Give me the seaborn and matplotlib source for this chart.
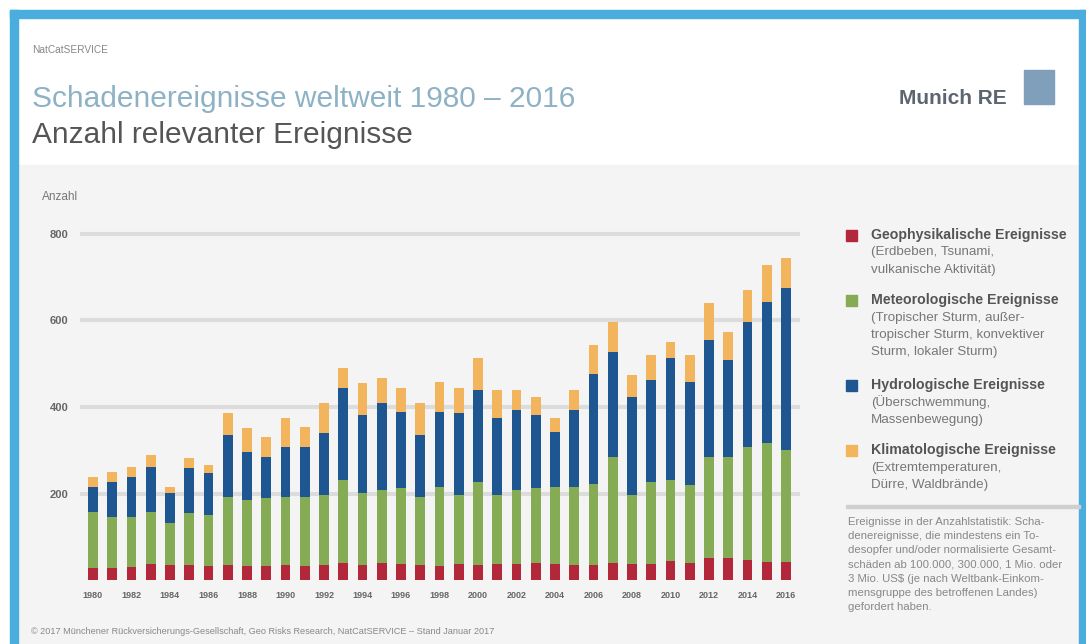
import matplotlib
matplotlib.use("Agg")
import matplotlib.pyplot as plt
import seaborn as sns
import pandas as pd
from matplotlib.patches import Rectangle

# ---------------- data ----------------
years = list(range(1980, 2017))
geophysical = [28, 28, 30, 37, 35, 35, 33, 35, 33, 32, 35, 33, 35, 39, 35, 40, 36, 35, 32,
               38, 35, 38, 36, 40, 38, 35, 35, 40, 37, 38, 45, 40, 50, 52, 46, 42, 42]
meteorological = [129, 118, 116, 120, 97, 120, 117, 157, 152, 158, 157, 159, 162, 192, 166,
                  168, 177, 157, 183, 159, 192, 159, 172, 173, 177, 180, 187, 244, 160, 189,
                  186, 180, 234, 232, 261, 275, 259]
hydrological = [58, 81, 92, 104, 69, 104, 97, 143, 111, 94, 116, 116, 143, 213, 180, 201,
                175, 143, 173, 189, 212, 178, 185, 168, 127, 178, 254, 243, 226, 235, 282,
                238, 271, 225, 290, 326, 374]
climatological = [23, 23, 23, 28, 14, 23, 19, 51, 55, 47, 67, 46, 69, 46, 74, 58, 56, 74,
                  70, 58, 74, 64, 46, 42, 33, 46, 67, 69, 51, 58, 37, 62, 85, 64, 73, 85, 69]
y_ticks = [200, 400, 600, 800]
x_tick_years = years[::2]

legend_entries = [
    ("Geophysikalische Ereignisse", ["(Erdbeben, Tsunami,", "vulkanische Aktivität)"]),
    ("Meteorologische Ereignisse", ["(Tropischer Sturm, außer-", "tropischer Sturm, konvektiver",
                                    "Sturm, lokaler Sturm)"]),
    ("Hydrologische Ereignisse", ["(Überschwemmung,", "Massenbewegung)"]),
    ("Klimatologische Ereignisse", ["(Extremtemperaturen,", "Dürre, Waldbrände)"]),
]
note_lines = [
    "Ereignisse in der Anzahlstatistik: Scha-",
    "denereignisse, die mindestens ein To-",
    "desopfer und/oder normalisierte Gesamt-",
    "schäden ab 100.000, 300.000, 1 Mio. oder",
    "3 Mio. US$ (je nach Weltbank-Einkom-",
    "mensgruppe des betroffenen Landes)",
    "gefordert haben.",
]

df = pd.DataFrame({"Jahr": [str(y) for y in years]})
df["geo"] = geophysical
df["met"] = df["geo"] + meteorological
df["hyd"] = df["met"] + hydrological
df["all"] = df["hyd"] + climatological

C_GEO = "#b3273b"
C_MET = "#86ab55"
C_HYD = "#1e5692"
C_CLI = "#f2b45c"

# ---------------- style ----------------
sns.set_style("white")
plt.rcParams["font.family"] = ["Liberation Sans", "DejaVu Sans"]

W, H = 1086, 644
fig = plt.figure(figsize=(W / 100, H / 100), dpi=100)


def fx(px):
    return px / W


def fy(py):
    return 1 - py / H


# backgrounds and blue frame
fig.add_artist(Rectangle((0, 0), 1, 1, transform=fig.transFigure, color="white", zorder=-20))
fig.add_artist(Rectangle((fx(18), 0), fx(1078) - fx(18), fy(165), transform=fig.transFigure,
                         color="#f4f4f4", zorder=-19))
blue = "#4badde"
fig.add_artist(Rectangle((fx(10), fy(18)), fx(1086) - fx(10), fy(10) - fy(18),
                         transform=fig.transFigure, color=blue, zorder=-18))
fig.add_artist(Rectangle((fx(10), 0), fx(8), fy(10), transform=fig.transFigure,
                         color=blue, zorder=-18))
fig.add_artist(Rectangle((fx(1079), 0), fx(8), fy(10), transform=fig.transFigure,
                         color=blue, zorder=-18))

# ---------------- axes ----------------
ax_left, ax_right = 79.5, 799.5
ax_bottom, ymax = 580, 815
px_per_unit = (580 - 234) / 800
ax_top = 580 - ymax * px_per_unit
ax = fig.add_axes([fx(ax_left), fy(ax_bottom), fx(ax_right - ax_left), fy(ax_top) - fy(ax_bottom)])
ax.set_facecolor("none")

for col, color in [("all", C_CLI), ("hyd", C_HYD), ("met", C_MET), ("geo", C_GEO)]:
    sns.barplot(data=df, x="Jahr", y=col, color=color, width=0.5, saturation=1,
                errorbar=None, ax=ax, linewidth=0, zorder=3)

ax.set_xlim(-0.7, len(years) - 0.3)
ax.set_ylim(0, ymax)
ax.set_yticks(y_ticks)
ax.set_yticklabels([str(v) for v in y_ticks])
ax.yaxis.grid(True, color="#dcdcdc", linewidth=3)
ax.set_axisbelow(True)
ax.set_xticks(range(0, len(years), 2))
ax.set_xticklabels([str(y) for y in x_tick_years])
ax.tick_params(axis="y", length=0, pad=8, labelsize=8, labelcolor="#666666")
ax.tick_params(axis="x", length=0, pad=8, labelsize=6.5, labelcolor="#666666")
for lab in ax.get_xticklabels() + ax.get_yticklabels():
    lab.set_fontweight("bold")
ax.set_xlabel("")
ax.set_ylabel("")
for s in ax.spines.values():
    s.set_visible(False)

# ---------------- texts ----------------
fig.text(fx(32), fy(50), "NatCatSERVICE", fontsize=7.3, color="#888888", va="center")
fig.text(fx(32), fy(99), "Schadenereignisse weltweit 1980 – 2016", fontsize=21.5,
         color="#8db2c6", va="center")
fig.text(fx(32), fy(135), "Anzahl relevanter Ereignisse", fontsize=21.5,
         color="#555555", va="center")
fig.text(fx(42), fy(197), "Anzahl", fontsize=8.5, color="#777777", va="center")
fig.text(fx(899), fy(98), "Munich RE", fontsize=15, color="#5b6670",
         fontweight="bold", va="center")
fig.add_artist(Rectangle((fx(1024), fy(104)), fx(30), fy(70) - fy(104),
                         transform=fig.transFigure, color="#7f9fba", zorder=2))
fig.text(fx(31), fy(632),
         "© 2017 Münchener Rückversicherungs-Gesellschaft, Geo Risks Research, "
         "NatCatSERVICE – Stand Januar 2017",
         fontsize=6.6, color="#888888", va="center")

# legend
legend_colors = [C_GEO, C_MET, C_HYD, C_CLI]
legend_y = [235, 300, 385, 450]
for (title, lines), color, y0 in zip(legend_entries, legend_colors, legend_y):
    fig.add_artist(Rectangle((fx(846), fy(y0 + 6)), fx(11), fy(y0 - 5) - fy(y0 + 6),
                             transform=fig.transFigure, color=color))
    fig.text(fx(871), fy(y0), title, fontsize=10.2, fontweight="bold",
             color="#555555", va="center")
    for i, ln in enumerate(lines):
        fig.text(fx(871), fy(y0 + 17.5 * (i + 1)), ln, fontsize=9.6,
                 color="#777777", va="center")

fig.add_artist(Rectangle((fx(846), fy(508)), fx(1080) - fx(846), fy(505) - fy(508),
                         transform=fig.transFigure, color="#cfcfcf"))
for i, ln in enumerate(note_lines):
    fig.text(fx(848), fy(522 + 14.2 * i), ln, fontsize=8.2, color="#888888", va="center")

fig.savefig("out.png", dpi=100)
